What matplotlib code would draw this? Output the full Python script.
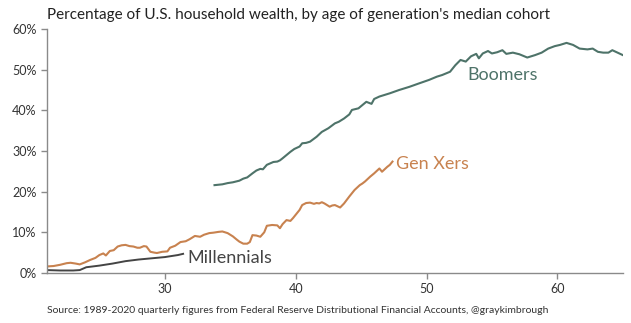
import matplotlib
matplotlib.use("Agg")
import matplotlib.pyplot as plt
from matplotlib.ticker import PercentFormatter

plt.rcParams['font.family'] = ['Lato', 'DejaVu Sans']

# values (age of median cohort, % of household wealth)
genx_age = [21.0, 21.5, 22.0, 22.5, 22.8, 23.2, 23.5, 23.9, 24.3, 24.7, 25.0, 25.3,
            25.5, 25.8, 26.1, 26.4, 26.7, 27.0, 27.3, 27.6, 27.9, 28.1, 28.4, 28.6,
            28.9, 29.2, 29.4, 29.8, 30.2, 30.4, 30.8, 31.2, 31.6, 31.9, 32.3, 32.7,
            33.0, 33.4, 33.7, 34.1, 34.4, 34.8, 35.2, 35.5, 35.7, 36.0, 36.3, 36.5,
            36.7, 37.0, 37.3, 37.6, 37.8, 38.2, 38.6, 38.8, 39.0, 39.3, 39.6, 39.8,
            40.0, 40.3, 40.5, 40.8, 41.1, 41.4, 41.6, 41.8, 42.0, 42.2, 42.4, 42.6,
            42.8, 43.0, 43.2, 43.4, 43.7, 44.1, 44.5, 44.9, 45.1, 45.3, 45.7, 46.0,
            46.4, 46.6, 47.0, 47.2, 47.4]
genx_pct = [1.6, 1.7, 2.0, 2.4, 2.5, 2.3, 2.1, 2.6, 3.2, 3.7, 4.4, 4.8,
            4.3, 5.4, 5.6, 6.5, 6.8, 6.9, 6.6, 6.5, 6.2, 6.2, 6.6, 6.5,
            5.2, 5.0, 4.9, 5.2, 5.3, 6.2, 6.7, 7.6, 7.8, 8.3, 9.1, 8.9,
            9.4, 9.8, 9.9, 10.1, 10.2, 9.8, 9.0, 8.2, 7.7, 7.2, 7.2, 7.6,
            9.3, 9.2, 8.9, 10.0, 11.6, 11.8, 11.7, 11.0, 12.0, 13.0, 12.8, 13.5,
            14.3, 15.5, 16.7, 17.2, 17.3, 17.0, 17.2, 17.1, 17.4, 17.1, 16.7, 16.3,
            16.6, 16.7, 16.4, 16.1, 17.1, 18.8, 20.4, 21.6, 22.0, 22.5, 23.7, 24.5,
            25.7, 24.9, 26.1, 26.6, 27.4]

boomer_age = [33.8, 34.1, 34.4, 34.8, 35.2, 35.7, 36.0, 36.3, 36.7, 37.0, 37.3, 37.5,
              37.8, 38.3, 38.6, 38.8, 39.0, 39.3, 39.6, 39.9, 40.3, 40.5, 40.8, 41.1,
              41.6, 42.0, 42.5, 43.0, 43.3, 43.7, 44.1, 44.3, 44.8, 45.4, 45.8, 46.0,
              46.4, 47.2, 47.9, 48.1, 48.7, 49.4, 50.2, 50.8, 51.2, 51.8, 52.2, 52.6,
              53.0, 53.4, 53.8, 54.0, 54.3, 54.7, 55.0, 55.4, 55.8, 56.1, 56.6, 57.1,
              57.7, 58.3, 58.8, 59.3, 59.8, 60.2, 60.7, 61.2, 61.7, 62.3, 62.7, 63.1,
              63.5, 63.9, 64.2, 64.6, 65.0]
boomer_pct = [21.6, 21.7, 21.8, 22.1, 22.3, 22.7, 23.2, 23.5, 24.5, 25.2, 25.6, 25.5,
              26.6, 27.3, 27.4, 27.7, 28.2, 29.0, 29.8, 30.5, 31.1, 31.9, 32.0, 32.3,
              33.5, 34.7, 35.6, 36.8, 37.2, 38.0, 39.0, 40.1, 40.5, 42.1, 41.6, 42.8,
              43.4, 44.2, 45.0, 45.2, 45.8, 46.6, 47.5, 48.3, 48.7, 49.5, 51.1, 52.4,
              52.0, 53.3, 53.9, 52.8, 54.0, 54.6, 54.0, 54.3, 54.8, 53.9, 54.2, 53.8,
              53.0, 53.6, 54.2, 55.2, 55.8, 56.1, 56.6, 56.1, 55.2, 55.0, 55.2, 54.4,
              54.2, 54.2, 54.8, 54.2, 53.6]

mill_age = [21.0, 22.0, 23.0, 23.5, 24.0, 25.0, 26.0, 27.0, 28.0, 29.0, 30.0, 31.0, 31.4]
mill_pct = [0.7, 0.6, 0.6, 0.7, 1.4, 1.8, 2.3, 2.9, 3.3, 3.6, 3.9, 4.4, 4.7]

boomer_col = '#4e7369'
genx_col = '#c8824f'
mill_col = '#444444'

fig = plt.figure(figsize=(6.31, 3.23), dpi=100)
ax = fig.add_axes([0.0745, 0.155, 0.9125, 0.755])

ax.plot(boomer_age, boomer_pct, color=boomer_col, lw=1.5)
ax.plot(genx_age, genx_pct, color=genx_col, lw=1.5)
ax.plot(mill_age, mill_pct, color=mill_col, lw=1.4)

ax.text(53.1, 48.7, 'Boomers', color=boomer_col, fontsize=13, va='center')
ax.text(47.7, 26.8, 'Gen Xers', color=genx_col, fontsize=13, va='center')
ax.text(31.7, 3.6, 'Millennials', color=mill_col, fontsize=13, va='center')

ax.set_xlim(21, 65)
ax.set_ylim(0, 60)
ax.set_xticks([30, 40, 50, 60])
ax.set_yticks([0, 10, 20, 30, 40, 50, 60])
ax.yaxis.set_major_formatter(PercentFormatter(decimals=0))

for s in ['top', 'right']:
    ax.spines[s].set_visible(False)
for s in ['left', 'bottom']:
    ax.spines[s].set_color('#8a8a8a')
    ax.spines[s].set_linewidth(1.0)
ax.tick_params(colors='#8a8a8a', labelcolor='#333333', labelsize=9, length=4, width=1)

fig.text(0.0745, 0.955, "Percentage of U.S. household wealth, by age of generation's median cohort",
         fontsize=11, color='#222222', va='center', ha='left')
fig.text(0.0745, 0.04,
         "Source: 1989-2020 quarterly figures from Federal Reserve Distributional Financial Accounts, @graykimbrough",
         fontsize=7.5, color='#333333', va='center', ha='left')

fig.savefig('out.png', dpi=100)
